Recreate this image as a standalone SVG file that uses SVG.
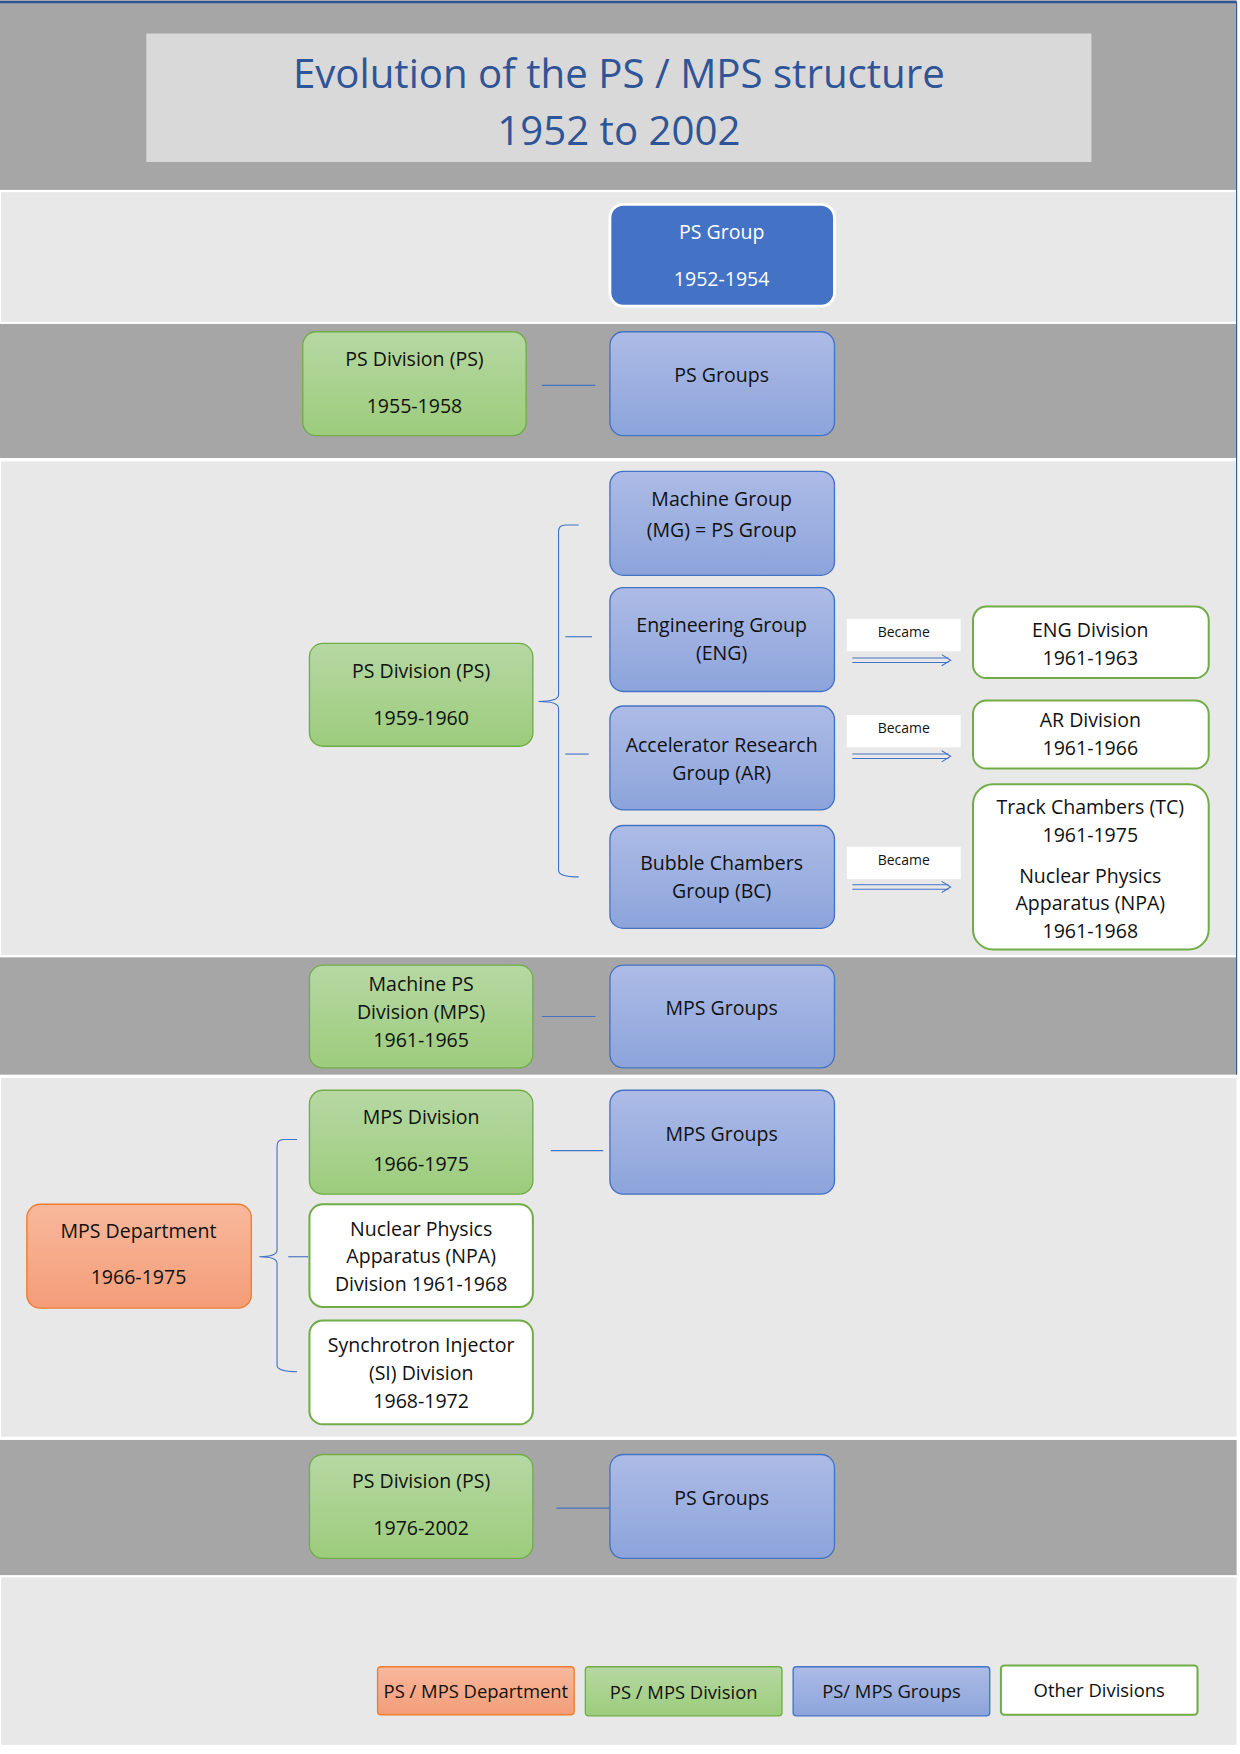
<svg xmlns="http://www.w3.org/2000/svg" width="1240" height="1754" viewBox="0 0 1240 1754">
<defs>
<linearGradient id="gg" x1="0" y1="0" x2="0" y2="1"><stop offset="0" stop-color="#b6d8a3"/><stop offset="1" stop-color="#9ccc7c"/></linearGradient>
<linearGradient id="bg" x1="0" y1="0" x2="0" y2="1"><stop offset="0" stop-color="#adbbe6"/><stop offset="1" stop-color="#8ca4db"/></linearGradient>
<linearGradient id="og" x1="0" y1="0" x2="0" y2="1"><stop offset="0" stop-color="#f8b89c"/><stop offset="1" stop-color="#f49d78"/></linearGradient>
</defs>
<style>
.dark{fill:#a6a6a6}.light{fill:#e8e8e8}
.g{fill:url(#gg);stroke:#70ad47;stroke-width:1.2}
.b{fill:url(#bg);stroke:#4472c4;stroke-width:1.2}
.o{fill:url(#og);stroke:#ed7d31;stroke-width:1.2}
.w{fill:#fff;stroke:#70ad47;stroke-width:1.8}
text{font-family:"Open Sans","Liberation Sans",sans-serif;font-size:17.5px;fill:#111;text-anchor:middle}
.t{font-size:36px;fill:#2f5597}
.s{font-size:12.5px}
.lg{font-size:16.5px}
.wt{fill:#fff}
.ln{stroke:#4472c4;stroke-width:1;fill:none}
</style>
<rect width="1240" height="1754" fill="#fff"/>
<g transform="scale(1.1171)">
<g id="bands">
<rect class="dark" x="0" y="0" width="1107" height="170"/>
<rect class="light" x="1" y="172" width="1106" height="116"/>
<rect class="dark" x="0" y="290" width="1107" height="120"/>
<rect class="light" x="1" y="413" width="1106" height="442"/>
<rect class="dark" x="0" y="857" width="1107" height="105"/>
<rect class="light" x="1" y="965" width="1106" height="321"/>
<rect class="dark" x="0" y="1289" width="1107" height="121"/>
<rect class="light" x="1" y="1412" width="1106" height="150"/>
<line x1="0" y1="2" x2="1107" y2="2" stroke="#2f5597" stroke-width="2"/>
<line x1="1107" y1="2" x2="1107" y2="962" stroke="#2f5597" stroke-width="1"/>
</g>
<g id="title">
<rect x="131" y="30" width="846" height="115" fill="#d9d9d9"/>
<text class="t" x="554" y="79">Evolution of the PS / MPS structure</text>
<text class="t" x="554" y="130">1952 to 2002</text>
</g>
<g id="connectors">
<line class="ln" x1="485" y1="345" x2="533" y2="345"/>
<path class="ln" d="M518,470 H506 Q500,470 500,476 V622 Q500,628 482,628 Q500,628 500,634 V779 Q500,785 518,785"/>
<line class="ln" x1="506" y1="570" x2="530" y2="570"/>
<line class="ln" x1="506" y1="675" x2="527" y2="675"/>
<line class="ln" x1="485" y1="910" x2="533" y2="910"/>
<line class="ln" x1="493" y1="1030" x2="540" y2="1030"/>
<path class="ln" d="M266,1020 H254 Q248,1020 248,1026 V1119 Q248,1125 232,1125 Q248,1125 248,1131 V1222 Q248,1228 266,1228"/>
<line class="ln" x1="258" y1="1125" x2="276" y2="1125"/>
<line class="ln" x1="498" y1="1350" x2="546" y2="1350"/>
<g id="became1"><rect x="758" y="554" width="102" height="29" fill="#fff"/><text class="s" x="809" y="570">Became</text><path class="ln" d="M763,589 H849 M763,593 H849"/><path class="ln" d="M843,586 L851,591 L843,596"/></g>
<g id="became2"><rect x="758" y="640" width="102" height="29" fill="#fff"/><text class="s" x="809" y="656">Became</text><path class="ln" d="M763,675 H849 M763,679 H849"/><path class="ln" d="M843,672 L851,677 L843,682"/></g>
<g id="became3"><rect x="758" y="758" width="102" height="29" fill="#fff"/><text class="s" x="809" y="774">Became</text><path class="ln" d="M763,792 H849 M763,796 H849"/><path class="ln" d="M843,789 L851,794 L843,799"/></g>
</g>
<g id="n1"><rect x="546" y="183" width="201" height="91" rx="12" fill="#4472c4" stroke="#fff" stroke-width="2.5"/><text class="wt" x="646" y="214">PS Group</text><text class="wt" x="646" y="256">1952-1954</text></g>
<g id="n2"><rect class="g" x="271" y="297" width="200" height="93" rx="12"/><text x="371" y="328">PS Division (PS)</text><text x="371" y="370">1955-1958</text></g>
<g id="n3"><rect class="b" x="546" y="297" width="201" height="93" rx="12"/><text x="646" y="342">PS Groups</text></g>
<g id="n4"><rect class="b" x="546" y="422" width="201" height="93" rx="12"/><text x="646" y="453">Machine Group</text><text x="646" y="481">(MG) = PS Group</text></g>
<g id="n5"><rect class="b" x="546" y="526" width="201" height="93" rx="12"/><text x="646" y="566">Engineering Group</text><text x="646" y="591">(ENG)</text></g>
<g id="n6"><rect class="b" x="546" y="632" width="201" height="93" rx="12"/><text x="646" y="673">Accelerator Research</text><text x="646" y="698">Group (AR)</text></g>
<g id="n7"><rect class="b" x="546" y="739" width="201" height="92" rx="12"/><text x="646" y="779">Bubble Chambers</text><text x="646" y="804">Group (BC)</text></g>
<g id="n8"><rect class="g" x="277" y="576" width="200" height="92" rx="12"/><text x="377" y="607">PS Division (PS)</text><text x="377" y="649">1959-1960</text></g>
<g id="n9"><rect class="w" x="871" y="543" width="211" height="64" rx="12"/><text x="976" y="570">ENG Division</text><text x="976" y="595">1961-1963</text></g>
<g id="n10"><rect class="w" x="871" y="627" width="211" height="61" rx="12"/><text x="976" y="651">AR Division</text><text x="976" y="676">1961-1966</text></g>
<g id="n11"><rect class="w" x="871" y="702" width="211" height="148" rx="18"/><text x="976" y="729">Track Chambers (TC)</text><text x="976" y="754">1961-1975</text><text x="976" y="790">Nuclear Physics</text><text x="976" y="815">Apparatus (NPA)</text><text x="976" y="840">1961-1968</text></g>
<g id="n12"><rect class="g" x="277" y="864" width="200" height="92" rx="12"/><text x="377" y="887">Machine PS</text><text x="377" y="912">Division (MPS)</text><text x="377" y="937">1961-1965</text></g>
<g id="n13"><rect class="b" x="546" y="864" width="201" height="92" rx="12"/><text x="646" y="909">MPS Groups</text></g>
<g id="n14"><rect class="g" x="277" y="976" width="200" height="93" rx="12"/><text x="377" y="1006">MPS Division</text><text x="377" y="1048">1966-1975</text></g>
<g id="n15"><rect class="b" x="546" y="976" width="201" height="93" rx="12"/><text x="646" y="1021">MPS Groups</text></g>
<g id="n16"><rect class="o" x="24" y="1078" width="201" height="93" rx="12"/><text x="124" y="1108">MPS Department</text><text x="124" y="1149">1966-1975</text></g>
<g id="n17"><rect class="w" x="277" y="1078" width="200" height="92" rx="12"/><text x="377" y="1106">Nuclear Physics</text><text x="377" y="1131">Apparatus (NPA)</text><text x="377" y="1156">Division 1961-1968</text></g>
<g id="n18"><rect class="w" x="277" y="1182" width="200" height="93" rx="12"/><text x="377" y="1210">Synchrotron Injector</text><text x="377" y="1235">(SI) Division</text><text x="377" y="1260">1968-1972</text></g>
<g id="n19"><rect class="g" x="277" y="1302" width="200" height="93" rx="12"/><text x="377" y="1332">PS Division (PS)</text><text x="377" y="1374">1976-2002</text></g>
<g id="n20"><rect class="b" x="546" y="1302" width="201" height="93" rx="12"/><text x="646" y="1347">PS Groups</text></g>
<g id="legend">
<rect class="o" x="338" y="1492" width="176" height="43" rx="3"/><text class="lg" x="426" y="1520">PS / MPS Department</text>
<rect class="g" x="524" y="1492" width="176" height="44" rx="3"/><text class="lg" x="612" y="1521">PS / MPS Division</text>
<rect class="b" x="710" y="1492" width="176" height="44" rx="3"/><text class="lg" x="798" y="1520">PS/ MPS Groups</text>
<rect class="w" x="896" y="1491" width="176" height="44" rx="3"/><text class="lg" x="984" y="1519">Other Divisions</text>
</g>
</g>
</svg>
